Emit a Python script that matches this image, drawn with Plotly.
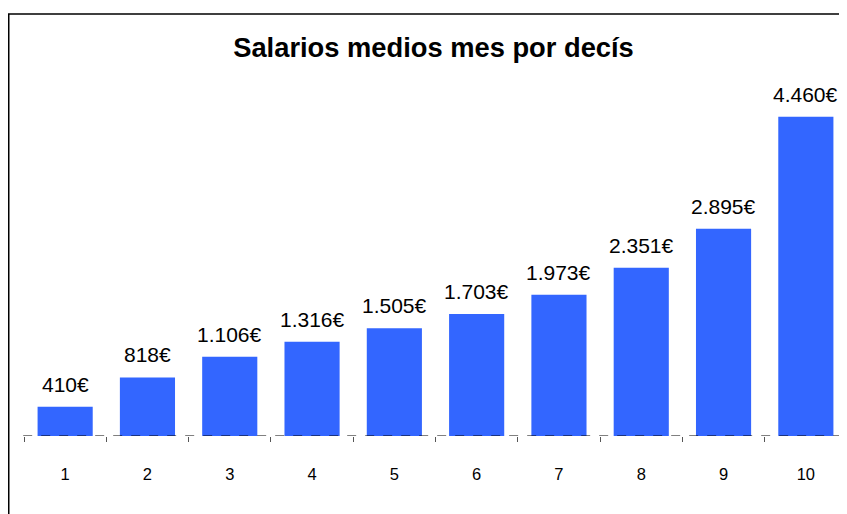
import plotly.graph_objects as go

deciles = [1, 2, 3, 4, 5, 6, 7, 8, 9, 10]
salarios = [410, 818, 1106, 1316, 1505, 1703, 1973, 2351, 2895, 4460]
tick_labels = [str(d) for d in deciles]
boundaries = [d + 0.5 for d in [0] + deciles]

W, H = 839, 506
ML, MT, MB = 16, 70, 78
PH = H - MT - MB


def fmt(v):
    return f"{v:,}".replace(",", ".") + "€"


fig = go.Figure(go.Bar(
    x=deciles, y=salarios, width=0.67,
    marker=dict(color="#3366FF", line=dict(width=0)),
    hovertemplate="%{x}: %{y}<extra></extra>",
))

annotations = [
    dict(x=d, y=v, xref="x", yref="y", text=fmt(v), showarrow=False,
         yanchor="bottom", xanchor="center", yshift=9,
         font=dict(family="Liberation Sans, Arial", size=21, color="black"))
    for d, v in zip(deciles, salarios)
]

fig.update_layout(
    width=W, height=H,
    margin=dict(l=ML, r=0, t=MT, b=MB),
    paper_bgcolor="white", plot_bgcolor="white",
    separators=",.",
    showlegend=False,
    font=dict(family="Liberation Sans, Arial", color="black"),
    title=dict(text="<b>Salarios medios mes por decís</b>", x=425.5 / W, xref="container",
               y=1 - 39 / H, yref="container", xanchor="center", yanchor="middle",
               font=dict(size=27.3, color="black")),
    xaxis=dict(range=[0.5, 10.5], tickvals=deciles, ticktext=tick_labels,
               showgrid=False, zeroline=False, showline=False, ticks="",
               tickfont=dict(size=16.5), ticklabelstandoff=26,
               minor=dict(tickvals=boundaries, ticks="outside", ticklen=5,
                          tickcolor="#555555", tickwidth=1, showgrid=False)),
    yaxis=dict(range=[0, 5000], visible=False),
    annotations=annotations,
    shapes=[
        dict(type="line", xref="paper", yref="y", x0=-0.001, x1=1, y0=0, y1=0,
             line=dict(color="black", width=1, dash="dash")),
        dict(type="rect", xref="paper", yref="paper", x0=(0.75 - ML) / (W - ML), x1=1.05,
             y0=-0.5, y1=(PH + MT - 6) / PH, line=dict(color="black", width=1.5),
             fillcolor="rgba(0,0,0,0)", layer="below"),
    ],
)

fig.write_html("out.html")
